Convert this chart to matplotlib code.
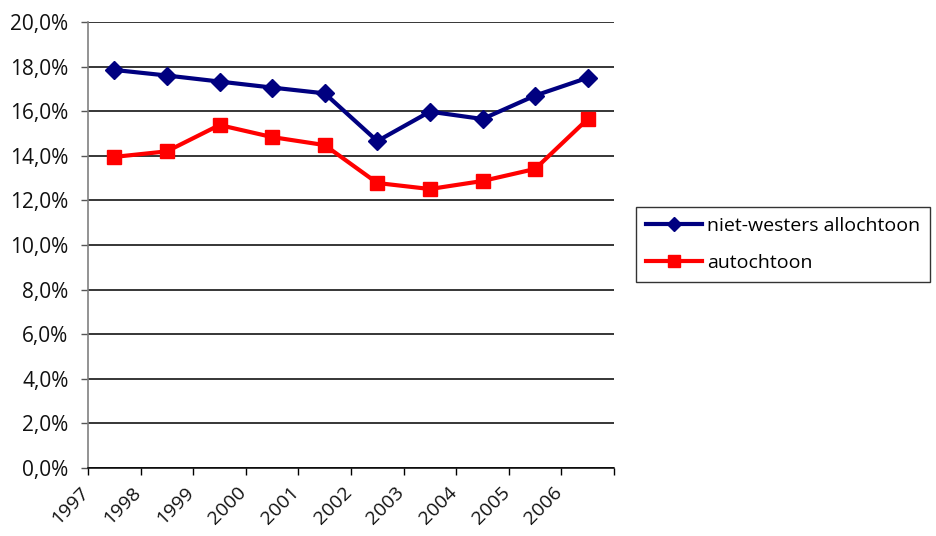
import matplotlib
matplotlib.use("Agg")
import matplotlib.pyplot as plt
from matplotlib.transforms import ScaledTranslation
from matplotlib.ticker import FixedLocator, FuncFormatter

years = ["1997", "1998", "1999", "2000", "2001", "2002", "2003", "2004", "2005", "2006"]
niet_westers = [17.85, 17.6, 17.33, 17.06, 16.8, 14.66, 15.98, 15.65, 16.7, 17.5]
autochtoon = [13.95, 14.2, 15.38, 14.84, 14.48, 12.78, 12.51, 12.87, 13.41, 15.65]
yticks = [0, 2, 4, 6, 8, 10, 12, 14, 16, 18, 20]

plt.rcParams['font.family'] = ['Open Sans', 'DejaVu Sans']

fig = plt.figure(figsize=(9.36, 5.36), dpi=100)
ax = fig.add_axes([88/936, 1-468/536, (614-88)/936, (468-22)/536])

x = list(range(len(years)))
ax.plot(x, niet_westers, color='#000080', lw=3, marker='D', ms=9,
        label='niet-westers allochtoon', clip_on=False, zorder=4)
ax.plot(x, autochtoon, color='#FF0000', lw=3, marker='s', ms=10,
        label='autochtoon', clip_on=False, zorder=3)

ax.set_xlim(-0.5, len(years) - 0.5)
ax.set_ylim(0, 20)
ax.set_yticks(yticks)
ax.yaxis.set_major_formatter(FuncFormatter(lambda v, p: f"{v:.1f}%".replace('.', ',')))
ax.yaxis.grid(True, color='black', lw=1.1)
ax.set_axisbelow(True)

ax.set_xticks(x)
ax.set_xticklabels(years, rotation=45, ha='right', va='top')
ax.xaxis.set_minor_locator(FixedLocator([i - 0.5 for i in range(len(years) + 1)]))
ax.tick_params(axis='x', which='major', length=0, pad=11, labelsize=14, colors='#111111')
ax.tick_params(axis='x', which='minor', length=5, width=1, color='black')
ax.tick_params(axis='y', length=5, width=1, color='#555555', pad=9, labelsize=15, labelcolor='#111111')
off = ScaledTranslation(-22/100, 0, fig.dpi_scale_trans)
for lbl in ax.get_xticklabels():
    lbl.set_transform(lbl.get_transform() + off)

for s in ['top', 'right']:
    ax.spines[s].set_visible(False)
ax.spines['left'].set_color('#808080')
ax.spines['left'].set_linewidth(1.2)
ax.spines['bottom'].set_color('black')
ax.spines['bottom'].set_linewidth(1.1)

leg = fig.legend(loc='upper left', bbox_to_anchor=(636/936, 1-207/536),
                 fontsize=14, frameon=True, fancybox=False, edgecolor='black',
                 handlelength=2.9, handletextpad=0.25, borderpad=0.5, labelspacing=1.0,
                 borderaxespad=0, markerscale=0.8)
leg.get_frame().set_linewidth(1.0)

fig.savefig('out.png', dpi=100)
